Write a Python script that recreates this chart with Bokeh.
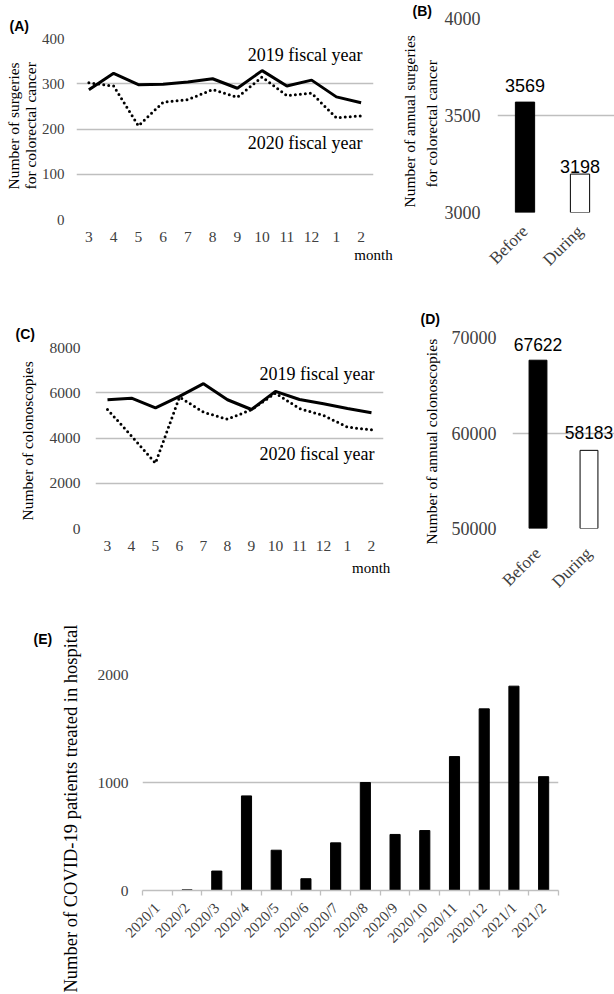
from math import pi
from bokeh.plotting import figure
from bokeh.models import Range1d, FixedTicker, Label, LinearAxis, Title
from bokeh.layouts import column, row
from bokeh.embed import file_html
from bokeh.resources import INLINE

# ---------------- data ----------------
months = ["3", "4", "5", "6", "7", "8", "9", "10", "11", "12", "1", "2"]
surg_2019 = [287, 323, 298, 299, 304, 311, 290, 329, 295, 308, 271, 258]
surg_2020 = [302, 295, 207, 259, 265, 287, 270, 315, 274, 279, 225, 229]
colo_2019 = [5690, 5760, 5335, 5840, 6400, 5690, 5260, 6060, 5700, 5510, 5300, 5120]
colo_2020 = [5260, 4090, 2890, 5810, 5140, 4830, 5250, 5985, 5300, 5000, 4480, 4360]
periods = ["Before", "During"]
annual_surg = [3569, 3198]
annual_colo = [67622, 58183]
covid_months = ["2020/1", "2020/2", "2020/3", "2020/4", "2020/5", "2020/6", "2020/7",
                "2020/8", "2020/9", "2020/10", "2020/11", "2020/12", "2021/1", "2021/2"]
covid_patients = [0, 6, 180, 876, 373, 109, 441, 1000, 519, 555, 1240, 1682, 1892, 1054]

surg_ticks = [0, 100, 200, 300, 400]
colo_ticks = [0, 2000, 4000, 6000, 8000]
asurg_ticks = [3000, 3500, 4000]
acolo_ticks = [50000, 60000, 70000]
covid_ticks = [0, 1000, 2000]

SERIF = "Liberation Serif"
SANS = "Liberation Sans"
GRID = "#bfbfbf"
TICK = "#404040"


def base_fig(w, h, bl, br, bt, bb, xr, yr, yticks, ysize):
    p = figure(width=w, height=h, min_border_left=bl, min_border_right=br,
               min_border_top=bt, min_border_bottom=bb,
               x_range=Range1d(*xr), y_range=Range1d(*yr),
               output_backend="svg", toolbar_location=None)
    p.outline_line_color = None
    p.xgrid.grid_line_color = None
    p.ygrid.grid_line_color = GRID
    p.ygrid.grid_line_width = 1.3
    p.yaxis.ticker = FixedTicker(ticks=yticks)
    for ax in (p.xaxis, p.yaxis):
        ax.axis_line_color = None
        ax.major_tick_line_color = None
        ax.minor_tick_line_color = None
        ax.major_tick_out = 0
        ax.major_tick_in = 0
        ax.minor_tick_out = 0
        ax.minor_tick_in = 0
        ax.major_label_text_font = SERIF
        ax.major_label_text_color = TICK
    p.yaxis.major_label_text_font_size = ysize
    return p


def panel_title(p, text, offset, standoff):
    p.title.text = text
    p.title.align = "left"
    p.title.offset = offset
    p.title.standoff = standoff
    p.title.text_font = SANS
    p.title.text_font_size = "14px"
    p.title.text_font_style = "bold"
    p.title.text_color = "black"


def side_title(p, text, size, offset, standoff, line_height=1.2):
    # a vertical axis title placed in the left side panel
    p.add_layout(Title(text=text, align="left", offset=offset, standoff=standoff,
                       text_font=SERIF, text_font_size=size, text_font_style="normal",
                       text_line_height=line_height, text_color="black"), "left")


def txt(p, x, y, text, size, font=SERIF, align="center", y_offset=0):
    p.add_layout(Label(x=x, y=y, text=text, text_font=font, text_font_size=size,
                       text_align=align, text_baseline="middle",
                       y_offset=y_offset, text_color="black"))


def month_axis(p, pos, standoff):
    ax = LinearAxis(ticker=FixedTicker(ticks=[pos]), major_label_overrides={pos: "month"})
    ax.axis_line_color = None
    ax.major_tick_line_color = None
    ax.minor_tick_line_color = None
    ax.major_tick_out = 0
    ax.minor_tick_out = 0
    ax.major_label_standoff = standoff
    ax.major_label_text_font = SERIF
    ax.major_label_text_font_size = "15px"
    ax.major_label_text_color = "black"
    p.add_layout(ax, "below")


# ---------------- (A) ----------------
idx_m = list(range(len(months)))
pA = base_fig(396, 290, 76, 23, 38, 71, (-0.5, len(months) - 0.499), (0, 400), surg_ticks, "15px")
pA.xaxis.ticker = FixedTicker(ticks=idx_m)
pA.xaxis.major_label_overrides = {i: m for i, m in enumerate(months)}
pA.xaxis.major_label_text_font_size = "15.5px"
pA.xaxis.major_label_standoff = 12
pA.yaxis.major_label_standoff = 12
pA.line(idx_m, surg_2019, line_color="black", line_width=3)
pA.line(idx_m, surg_2020, line_color="black", line_width=3, line_dash="0 5", line_cap="round")
txt(pA, 11.06, 364.6, "2019 fiscal year", "18px", align="right")
txt(pA, 11.06, 170, "2020 fiscal year", "18px", align="right")
month_axis(pA, len(months) - 0.5, 2)
panel_title(pA, "(A)", -67, 10)
side_title(pA, "Number of surgeries\nfor colorectal cancer", "15.5px", 30, 0, line_height=1.0)

# ---------------- (B) ----------------
idx_p = list(range(len(periods)))
pB = base_fig(218, 290, 101, 0, 17, 78, (-0.5, 1.627), (3000, 4000), asurg_ticks, "18px")
pB.xaxis.ticker = FixedTicker(ticks=idx_p)
pB.xaxis.major_label_overrides = {i: s for i, s in enumerate(periods)}
pB.xaxis.major_label_orientation = pi / 4
pB.xaxis.major_label_text_font_size = "17px"
pB.xaxis.major_label_standoff = 16
pB.yaxis.major_label_standoff = 17
pB.vbar(x=idx_p, top=annual_surg, bottom=asurg_ticks[0], width=0.35,
        fill_color=["black", "white"], line_color="black", line_width=1)
for i, (v, off) in enumerate(zip(annual_surg, [17, 8])):
    txt(pB, i, v, str(v), "18px", font=SANS, y_offset=off)
panel_title(pB, "(B)", -85, 0)
side_title(pB, "for colorectal cancer", "15.5px", 25, 3)
side_title(pB, "Number of annual surgeries", "15.5px", 5, 4)

# ---------------- (C) ----------------
pC = base_fig(396, 310, 95, 13, 57, 72, (-0.5, len(months) - 0.499), (0, 8000), colo_ticks, "15.5px")
pC.xaxis.ticker = FixedTicker(ticks=idx_m)
pC.xaxis.major_label_overrides = {i: m for i, m in enumerate(months)}
pC.xaxis.major_label_text_font_size = "15.5px"
pC.xaxis.major_label_standoff = 12
pC.yaxis.major_label_standoff = 15
pC.line(idx_m, colo_2019, line_color="black", line_width=3)
pC.line(idx_m, colo_2020, line_color="black", line_width=3, line_dash="0 5", line_cap="round")
txt(pC, 11.125, 6807, "2019 fiscal year", "18px", align="right")
txt(pC, 11.125, 3271, "2020 fiscal year", "18px", align="right")
month_axis(pC, len(months) - 0.5, 6)
panel_title(pC, "(C)", -80, 11)
side_title(pC, "Number of colonoscopies", "15.5px", 8, 22)

# ---------------- (D) ----------------
pD = base_fig(218, 310, 116, 0, 47, 63, (-0.5, len(periods) - 0.5), (50000, 70000), acolo_ticks, "18px")
pD.xaxis.ticker = FixedTicker(ticks=idx_p)
pD.xaxis.major_label_overrides = {i: s for i, s in enumerate(periods)}
pD.xaxis.major_label_orientation = pi / 4
pD.xaxis.major_label_text_font_size = "17px"
pD.xaxis.major_label_standoff = 22
pD.yaxis.major_label_standoff = 16
pD.vbar(x=idx_p, top=annual_colo, bottom=acolo_ticks[0], width=0.35,
        fill_color=["black", "white"], line_color="black", line_width=1)
for i, (v, off) in enumerate(zip(annual_colo, [16, 18])):
    txt(pD, i, v, str(v), "17.5px", font=SANS, y_offset=off)
panel_title(pD, "(D)", -92, 22)
side_title(pD, "Number of annual colonoscopies", "15.6px", -16, 18)

# ---------------- (E) ----------------
idx_c = list(range(len(covid_months)))
pE = base_fig(614, 392, 142, 56, 74, 102, (-0.5, len(covid_months) - 0.5), (0, 2000), covid_ticks, "15.5px")
pE.xaxis.ticker = FixedTicker(ticks=idx_c, minor_ticks=[i - 0.5 for i in range(len(covid_months) + 1)])
pE.xaxis.major_label_overrides = {i: s for i, s in enumerate(covid_months)}
pE.xaxis.major_label_orientation = pi / 4
pE.xaxis.major_label_text_font_size = "15px"
pE.xaxis.major_label_standoff = 10
pE.xaxis.axis_line_color = GRID
pE.xaxis.axis_line_width = 1.3
pE.xaxis.minor_tick_line_color = GRID
pE.xaxis.minor_tick_line_width = 1.3
pE.xaxis.minor_tick_in = 0
pE.xaxis.minor_tick_out = 5
pE.yaxis.major_label_standoff = 14
pE.vbar(x=idx_c, top=covid_patients, width=0.34, fill_color="black", line_color="black")
panel_title(pE, "(E)", -109, 56)
side_title(pE, "Number of COVID-19 patients treated in hospital", "18.5px", -102, 27)

layout = column(row(column(pA), column(pB)), row(column(pC), column(pD)), pE)
open("out.html", "w").write(file_html(layout, INLINE))
